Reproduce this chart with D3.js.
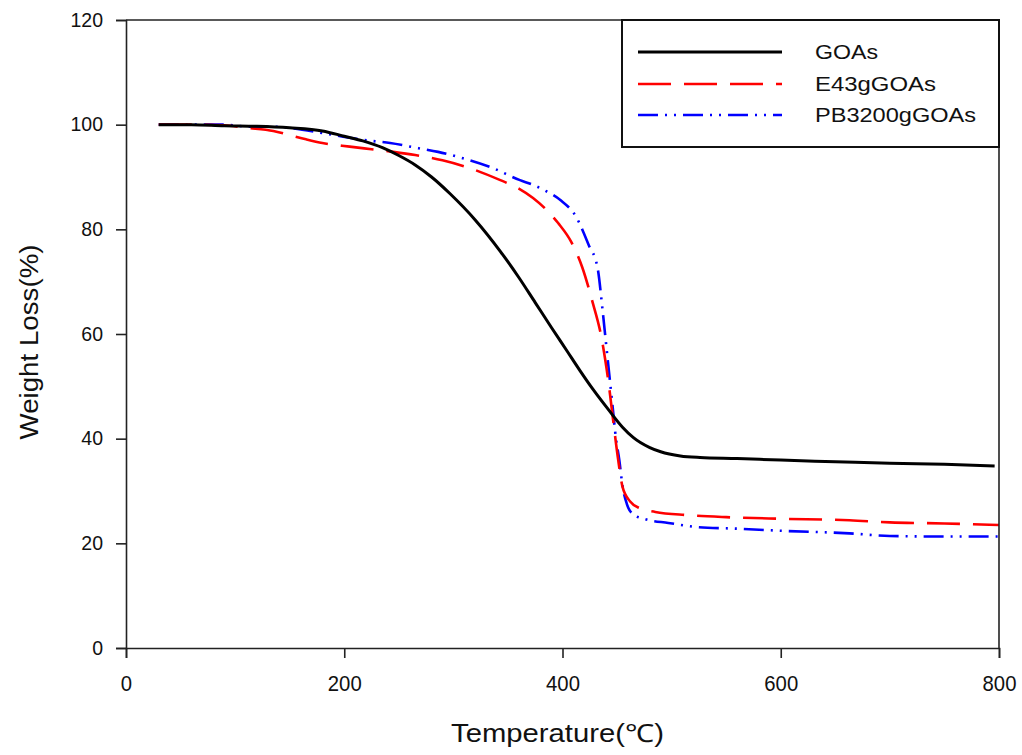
<!DOCTYPE html>
<html>
<head>
<meta charset="utf-8">
<script src="https://cdn.jsdelivr.net/npm/d3@7"></script>
<style>
  html, body { margin: 0; padding: 0; background: #fff; }
  svg { display: block; font-family: "Liberation Sans", Arial, sans-serif; }
</style>
</head>
<body>
<svg id="chart" width="1022" height="755"></svg>
<script>
// TGA curves: temperature (°C) vs remaining weight (%)
const goasT = [30, 60, 90, 120, 150, 180, 200, 217, 235, 250, 265, 280, 297, 320, 343, 360, 375, 390, 404, 416, 428, 443, 455, 465, 480, 490, 508, 526, 560, 600, 650, 700, 750, 796];
const goasW = [100, 100, 99.8, 99.7, 99.4, 98.8, 97.8, 96.9, 95.6, 94.1, 92.3, 90.0, 86.8, 81.8, 75.8, 70.8, 66.0, 61.2, 56.8, 53.0, 49.4, 45.3, 42.2, 40.2, 38.3, 37.5, 36.7, 36.4, 36.2, 35.9, 35.6, 35.3, 35.1, 34.8];

const e43T = [30, 60, 90, 110, 135, 150, 165, 180, 205, 225, 245, 265, 290, 315, 343, 360, 373, 384, 396, 408, 418, 427, 436, 442, 447, 451, 455, 462, 471, 485, 514, 550, 600, 663, 700, 750, 800];
const e43W = [100, 100, 99.9, 99.4, 98.8, 98, 97.2, 96.5, 95.8, 95.3, 94.8, 94.2, 93.2, 91.7, 89.4, 87.8, 86.0, 84.0, 81.2, 77.6, 72.8, 66.5, 59, 51, 42.5, 36, 30.8, 28, 26.7, 26, 25.4, 25, 24.7, 24.4, 24, 23.8, 23.5];

const pbT = [30, 60, 90, 114, 138, 153, 180, 199, 225, 242, 268, 286, 310, 335, 361, 373, 385, 398, 413, 424, 432, 437, 440, 443, 446, 449, 452, 455, 459, 465, 476, 497, 524, 560, 600, 663, 700, 750, 800];
const pbW = [100, 100, 100, 99.6, 99.6, 99.3, 98.4, 97.7, 96.9, 96.5, 95.5, 94.8, 93.5, 91.8, 89.4, 88.5, 87.3, 85.6, 82.2, 77, 72.8, 64, 58, 52, 46, 40, 36, 31, 27.5, 25.5, 24.6, 23.9, 23.1, 22.8, 22.4, 21.9, 21.4, 21.3, 21.3];

const seriesNames = ["GOAs", "E43gGOAs", "PB3200gGOAs"];
const xTicks = [0, 200, 400, 600, 800];
const yTicks = [0, 20, 40, 60, 80, 100, 120];

const svg = d3.select("#chart");
const plotLeft = 126, plotRight = 999, plotTop = 20, plotBottom = 648;

const x = d3.scaleLinear().domain([0, 800]).range([plotLeft, plotRight]);
const y = d3.scaleLinear().domain([0, 120]).range([plotBottom, plotTop]);

const styles = [
  { color: "#000000", width: 3, dash: null },
  { color: "#ff0000", width: 2.6, dash: "33 13" },
  { color: "#0000ff", width: 2.6, dash: "20 7 2 7 2 7" }
];

const series = [
  goasT.map((t, i) => [t, goasW[i]]),
  e43T.map((t, i) => [t, e43W[i]]),
  pbT.map((t, i) => [t, pbW[i]])
];

const line = d3.line()
  .x(d => x(d[0]))
  .y(d => y(d[1]))
  .curve(d3.curveMonotoneX);

// curves (drawn back to front: blue, red, black)
[2, 1, 0].forEach(i => {
  svg.append("path")
    .datum(series[i])
    .attr("d", line)
    .attr("fill", "none")
    .attr("stroke", styles[i].color)
    .attr("stroke-width", styles[i].width)
    .attr("stroke-dasharray", styles[i].dash)
    .attr("stroke-linejoin", "round");
});

// axes
const xAxis = svg.append("g")
  .attr("transform", `translate(0,${plotBottom})`)
  .call(d3.axisBottom(x).tickValues(xTicks).tickSize(10).tickPadding(17).tickFormat(d3.format("d")));
const yAxis = svg.append("g")
  .attr("transform", `translate(${plotLeft},0)`)
  .call(d3.axisLeft(y).tickValues(yTicks).tickSize(10).tickPadding(13).tickFormat(d3.format("d")));

[xAxis, yAxis].forEach(g => {
  g.select(".domain").attr("stroke", "#222").attr("stroke-width", 1.6);
  g.selectAll(".tick line").attr("stroke", "#222").attr("stroke-width", 1.6);
  g.selectAll(".tick text").attr("fill", "#111").attr("font-family", "Liberation Sans, Arial, sans-serif");
});
yAxis.selectAll(".tick text").attr("font-size", 19.5);
xAxis.selectAll(".tick text")
  .attr("font-size", 22)
  .attr("textLength", d => String(d).length * 11.3)
  .attr("lengthAdjust", "spacingAndGlyphs");

// top and right frame lines
svg.append("line").attr("x1", plotLeft).attr("x2", plotRight).attr("y1", plotTop).attr("y2", plotTop)
  .attr("stroke", "#222").attr("stroke-width", 1.6);
svg.append("line").attr("x1", plotRight).attr("x2", plotRight).attr("y1", plotTop).attr("y2", plotBottom)
  .attr("stroke", "#222").attr("stroke-width", 1.6);

// axis titles
svg.append("text")
  .attr("x", (plotLeft + plotRight) / 2 - 5)
  .attr("y", 742)
  .attr("text-anchor", "middle")
  .attr("font-size", 25)
  .attr("fill", "#111")
  .attr("textLength", 213)
  .attr("lengthAdjust", "spacingAndGlyphs")
  .text("Temperature(℃)");

svg.append("text")
  .attr("transform", "translate(38,342) rotate(-90)")
  .attr("text-anchor", "middle")
  .attr("font-size", 25)
  .attr("fill", "#111")
  .attr("textLength", 195)
  .attr("lengthAdjust", "spacingAndGlyphs")
  .text("Weight Loss(%)");

// legend
const lg = svg.append("g");
lg.append("rect")
  .attr("x", 622).attr("y", plotTop).attr("width", plotRight - 622).attr("height", 147 - plotTop)
  .attr("fill", "#fff").attr("stroke", "#111").attr("stroke-width", 2);
const legendRows = [52, 84, 115];
const legendWidths = [63, 121, 161];
seriesNames.forEach((name, i) => {
  lg.append("line")
    .attr("x1", 638).attr("x2", 782)
    .attr("y1", legendRows[i]).attr("y2", legendRows[i])
    .attr("stroke", styles[i].color)
    .attr("stroke-width", styles[i].width)
    .attr("stroke-dasharray", styles[i].dash);
  lg.append("text")
    .attr("x", 815).attr("y", legendRows[i] + 7)
    .attr("font-size", 20)
    .attr("fill", "#111")
    .attr("textLength", legendWidths[i])
    .attr("lengthAdjust", "spacingAndGlyphs")
    .text(name);
});
</script>
</body>
</html>
